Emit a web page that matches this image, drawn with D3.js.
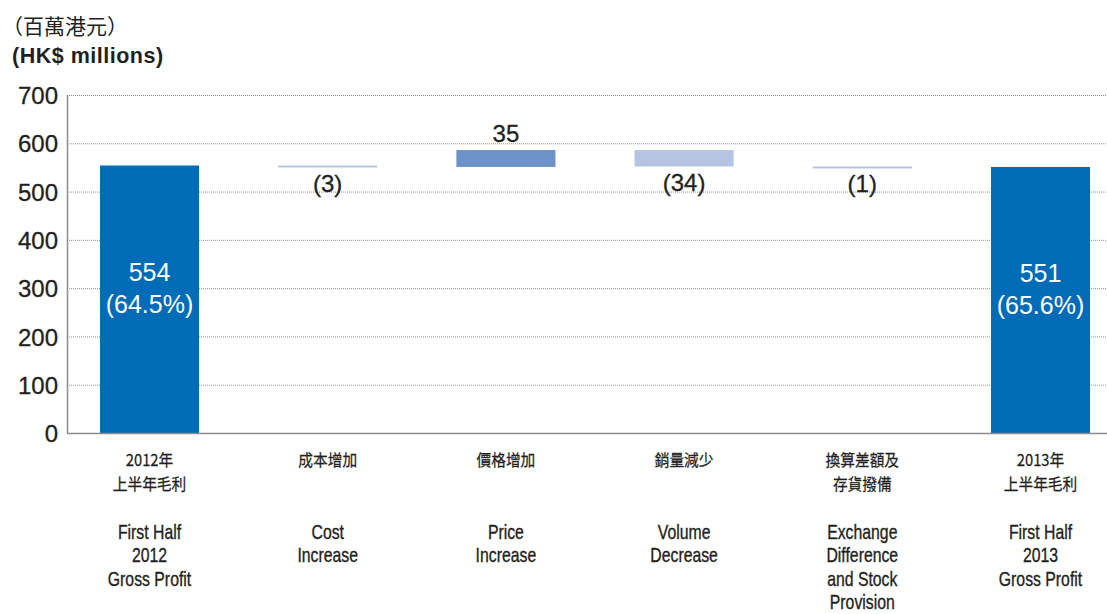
<!DOCTYPE html>
<html>
<head>
<meta charset="utf-8">
<script src="https://cdn.jsdelivr.net/npm/d3@7/dist/d3.min.js"></script>
<style>
  html, body { margin: 0; padding: 0; background: #fff; }
  svg { display: block; }
</style>
</head>
<body>
<svg id="chart" width="1107" height="614"></svg>
<script>
// Gross profit bridge, first half 2012 to first half 2013 (HK$ millions)
const categoriesZh = [
  ["2012年", "上半年毛利"],
  ["成本增加"],
  ["價格增加"],
  ["銷量減少"],
  ["換算差額及", "存貨撥備"],
  ["2013年", "上半年毛利"]
];
const categoriesEn = [
  ["First Half", "2012", "Gross Profit"],
  ["Cost", "Increase"],
  ["Price", "Increase"],
  ["Volume", "Decrease"],
  ["Exchange", "Difference", "and Stock", "Provision"],
  ["First Half", "2013", "Gross Profit"]
];
const kinds = ["total", "change", "change", "change", "change", "total"];
const values = [554, -3, 35, -34, -1, 551];
const marginLabels = ["(64.5%)", null, null, null, null, "(65.6%)"];
const yTicks = [0, 100, 200, 300, 400, 500, 600, 700];

const svg = d3.select("#chart");
const W = 1107;
const plotLeft = 67, plotTop = 95, plotBottom = 433;
const latin = "'Liberation Sans', Arial, Helvetica, sans-serif";
const cjk = "'Noto Sans CJK TC', 'Noto Sans CJK SC', sans-serif";
const ink = "#231f20";

// Build floating segments for the waterfall
let running = 0;
const bars = values.map((v, i) => {
  let lo, hi;
  if (kinds[i] === "total") { lo = 0; hi = v; running = v; }
  else { const start = running; running += v; lo = Math.min(start, running); hi = Math.max(start, running); }
  return { i, v, lo, hi, kind: kinds[i] };
});

const x = d3.scaleBand()
  .domain(d3.range(values.length))
  .range([plotLeft, 1123])
  .paddingInner(0.444)
  .paddingOuter(0.185);
const cx = i => x(i) + x.bandwidth() / 2;

const y = d3.scaleLinear().domain([0, 700]).range([plotBottom, plotTop]);

// Gridlines
svg.append("g")
  .selectAll("line")
  .data(yTicks.filter(t => t > 0))
  .join("line")
  .attr("x1", plotLeft).attr("x2", W)
  .attr("y1", d => y(d) + 0.5).attr("y2", d => y(d) + 0.5)
  .attr("stroke", "#8f8f8f")
  .attr("stroke-width", 1)
  .attr("stroke-dasharray", "1,1");

// Bars
const color = d => d.kind === "total" ? "#006bb6" : (d.v > 0 ? "#6f91c9" : "#b6c4e4");
svg.append("g")
  .selectAll("rect")
  .data(bars)
  .join("rect")
  .attr("x", d => x(d.i))
  .attr("width", x.bandwidth())
  .attr("y", d => y(d.hi))
  .attr("height", d => Math.max(2, y(d.lo) - y(d.hi)))
  .attr("fill", color);

// Axis lines
svg.append("line")
  .attr("x1", plotLeft + 0.5).attr("x2", plotLeft + 0.5)
  .attr("y1", plotTop).attr("y2", plotBottom)
  .attr("stroke", "#8c8c8c").attr("stroke-width", 1.5);
svg.append("line")
  .attr("x1", plotLeft).attr("x2", W)
  .attr("y1", plotBottom + 0.5).attr("y2", plotBottom + 0.5)
  .attr("stroke", "#8c8c8c").attr("stroke-width", 1.5);

// Y tick labels
const yAxis = d3.axisLeft(y).tickValues(yTicks).tickSize(0).tickPadding(9);
const gy = svg.append("g").attr("transform", `translate(${plotLeft},0)`).call(yAxis);
gy.select(".domain").remove();
gy.selectAll("text")
  .attr("font-family", latin)
  .attr("font-size", 24)
  .attr("fill", ink)
  .attr("stroke", ink)
  .attr("stroke-width", 0.3)
  .attr("dy", "0.36em");

// Totals: value and margin inside the bar
const totals = bars.filter(d => d.kind === "total");
const inside = svg.append("g");
inside.selectAll("text.val")
  .data(totals)
  .join("text")
  .attr("class", "val")
  .attr("x", d => cx(d.i))
  .attr("y", d => y(d.v * 0.5) - 18)
  .attr("text-anchor", "middle")
  .attr("font-family", latin)
  .attr("font-size", 25)
  .attr("fill", "#fff")
  .text(d => d.v);
inside.selectAll("text.pct")
  .data(totals)
  .join("text")
  .attr("class", "pct")
  .attr("x", d => cx(d.i))
  .attr("y", d => y(d.v * 0.5) + 14)
  .attr("text-anchor", "middle")
  .attr("font-family", latin)
  .attr("font-size", 25)
  .attr("fill", "#fff")
  .text(d => marginLabels[d.i]);

// Changes: label above (increase) or below (decrease)
const changes = bars.filter(d => d.kind === "change");
svg.append("g")
  .selectAll("text")
  .data(changes)
  .join("text")
  .attr("x", d => cx(d.i))
  .attr("y", d => d.v > 0 ? y(d.hi) - 8 : y(d.lo) + 25)
  .attr("text-anchor", "middle")
  .attr("font-family", latin)
  .attr("font-size", 24)
  .attr("fill", ink)
  .attr("stroke", ink)
  .attr("stroke-width", 0.3)
  .text(d => d.v > 0 ? d.v : `(${-d.v})`);

// Category labels (Chinese, then condensed English)
const cat = svg.append("g");
categoriesZh.forEach((lines, i) => {
  const t = cat.append("text")
    .attr("transform", `translate(${cx(i)},466) scale(0.92,1)`)
    .attr("text-anchor", "middle")
    .attr("font-family", cjk)
    .attr("font-size", 16)
    .attr("fill", ink)
    .attr("stroke", ink)
    .attr("stroke-width", 0.25);
  lines.forEach((s, k) => t.append("tspan")
    .attr("x", 0)
    .attr("dy", k === 0 ? 0 : 24)
    .text(s));
});
categoriesEn.forEach((lines, i) => {
  const t = cat.append("text")
    .attr("transform", `translate(${cx(i)},539) scale(0.79,1)`)
    .attr("text-anchor", "middle")
    .attr("font-family", latin)
    .attr("font-size", 20)
    .attr("fill", ink)
    .attr("stroke", ink)
    .attr("stroke-width", 0.35);
  lines.forEach((s, k) => t.append("tspan")
    .attr("x", 0)
    .attr("dy", k === 0 ? 0 : 23.5)
    .text(s));
});

// Unit titles
svg.append("text")
  .attr("x", 2).attr("y", 34)
  .attr("font-family", cjk)
  .attr("font-size", 21)
  .attr("fill", ink)
  .text("（百萬港元）");
svg.append("text")
  .attr("x", 12).attr("y", 63)
  .attr("font-family", latin)
  .attr("font-weight", "bold")
  .attr("font-size", 21.5)
  .attr("letter-spacing", 0.5)
  .attr("fill", ink)
  .text("(HK$ millions)");
</script>
</body>
</html>
